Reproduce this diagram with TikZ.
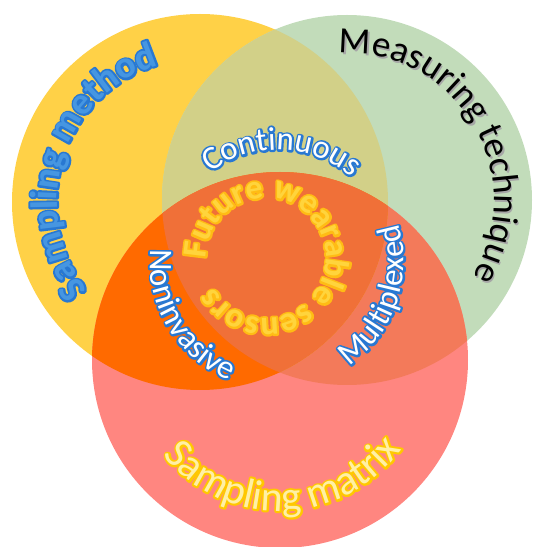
\documentclass[tikz,border=0pt]{standalone}
\usepackage{fontspec}
\setmainfont{Carlito}
\usetikzlibrary{calc, decorations.text}

\definecolor{yellowset}{RGB}{255,209,71}
\definecolor{greenset}{RGB}{194,220,186}
\definecolor{redset}{RGB}{255,134,128}
\definecolor{yellowgreen}{RGB}{210,208,136}
\definecolor{yellowred}{RGB}{255,106,0}
\definecolor{greenred}{RGB}{243,122,90}
\definecolor{allsets}{RGB}{240,112,56}
\definecolor{labelblue}{RGB}{40,120,210}
\definecolor{methodblue}{RGB}{70,150,225}
\definecolor{ringyellow}{RGB}{255,212,60}
\definecolor{ringedge}{RGB}{255,188,20}
\definecolor{matrixfill}{RGB}{255,240,165}
\definecolor{matrixedge}{RGB}{255,200,0}

% #1 edge colour, #2 fill colour, #3 font, #4 text, #5 path
\newcommand{\arclabel}[5]{%
  \path[decorate, decoration={text along path, text={|#3\color{#1}\special{pdf:literal direct 1 j 2 w 2 Tr}|#4}, text align=center}] #5;
  \path[decorate, decoration={text along path, text={|#3\color{#2}\special{pdf:literal direct 0 Tr}|#4}, text align=center}] #5;
}

\begin{document}
\begin{tikzpicture}[x=0.5pt,y=0.5pt]
\useasboundingbox (0,0) rectangle (534,547);

\coordinate (method) at (200,345);
\coordinate (measure) at (347,347);
\coordinate (matrix) at (280,187);
\coordinate (mid) at (278,285);
\coordinate (ring) at (266,289);

% the three sets
\fill[yellowset] (method) circle[radius=188];
\fill[greenset] (measure) circle[radius=185];
\fill[redset] (matrix) circle[radius=188];
\begin{scope}
  \clip (measure) circle[radius=185];
  \fill[greenred] (matrix) circle[radius=188];
\end{scope}
\begin{scope}
  \clip (method) circle[radius=188];
  \fill[yellowgreen] (measure) circle[radius=185];
  \fill[yellowred] (matrix) circle[radius=188];
  \clip (measure) circle[radius=185];
  \fill[allsets] (matrix) circle[radius=188];
\end{scope}

% set names
\arclabel{labelblue}{methodblue}{\fontsize{19}{21}\selectfont\bfseries}{Sampling method}
  {($(method)+(225:143)$) arc[start angle=225, end angle=100, radius=143]}

\path[decorate, decoration={text along path, text={|\fontsize{18.5}{20}\selectfont\color{gray!70}|Measuring technique}, text align=center}]
  ($(measure)+(102:147)+(1.5,-2)$) arc[start angle=102, end angle=-40, radius=147];
\path[decorate, decoration={text along path, text={|\fontsize{18.5}{20}\selectfont\color{black}|Measuring technique}, text align=center}]
  ($(measure)+(102:147)$) arc[start angle=102, end angle=-40, radius=147];

\arclabel{matrixedge}{matrixfill}{\fontsize{21}{23}\selectfont}{Sampling matrix}
  {($(matrix)+(215:151)$) arc[start angle=215, end angle=328, radius=151]}

% overlaps
\arclabel{labelblue}{white}{\fontsize{16.5}{18}\selectfont}{Continuous}
  {($(mid)+(130:112)$) arc[start angle=130, end angle=46, radius=112]}
\arclabel{labelblue}{white}{\fontsize{16.5}{18}\selectfont}{Noninvasive}
  {($(mid)+(170:128)$) arc[start angle=170, end angle=252, radius=128]}
\arclabel{labelblue}{white}{\fontsize{16.5}{18}\selectfont}{Multiplexed}
  {($(mid)+(-65:126)$) arc[start angle=-65, end angle=27, radius=126]}

% centre
\arclabel{ringedge}{ringyellow}{\fontsize{17}{19}\selectfont\bfseries}{Future wearable sensors}
  {($(ring)+(195:60)$) arc[start angle=195, end angle=-165, radius=60]}

\end{tikzpicture}
\end{document}
